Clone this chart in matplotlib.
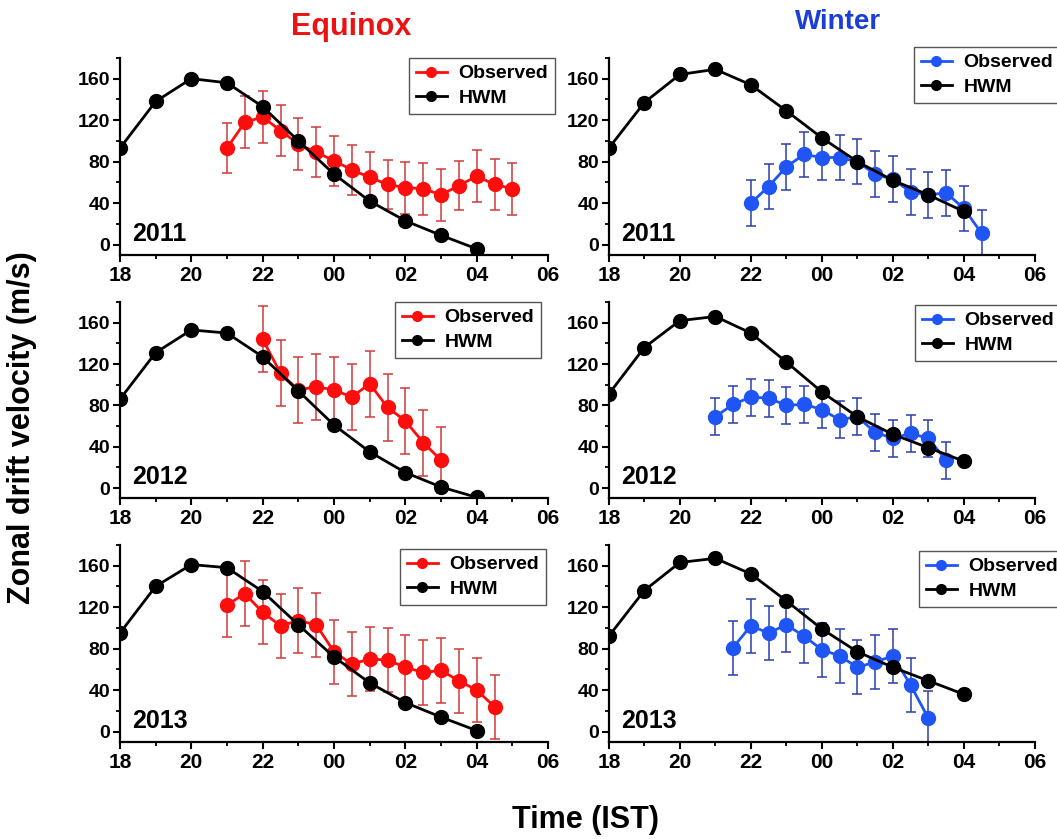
import matplotlib
matplotlib.use('Agg')
import matplotlib.pyplot as plt
from matplotlib.lines import Line2D
from matplotlib.ticker import MultipleLocator, FuncFormatter

plt.rcParams['font.family'] = ['Liberation Sans', 'DejaVu Sans']
plt.rcParams['font.weight'] = 'bold'
plt.rcParams['axes.linewidth'] = 1.6

RED = '#ff0d0d'
RED_ERR = '#d03a3a'
BLUE = '#1f55f5'
BLUE_ERR = '#2b3fae'

# HWM model, hourly 18 -> 04 IST (hours past 24 = next day)
hwm_t = [18, 19, 20, 21, 22, 23, 24, 25, 26, 27, 28]

eq2011_hwm = [93, 138, 160, 156, 133, 100, 68, 42, 23, 9, -4]
eq2011_t = [21, 21.5, 22, 22.5, 23, 23.5, 24, 24.5, 25, 25.5, 26, 26.5, 27, 27.5, 28, 28.5, 29]
eq2011_obs = [93, 118, 123, 110, 97, 89, 81, 72, 65, 58, 55, 54, 48, 57, 66, 58, 54]
eq2011_err = [24, 25, 25, 25, 25, 24, 24, 24, 24, 24, 25, 25, 25, 24, 25, 25, 25]

wi2011_hwm = [93, 137, 164, 169, 154, 129, 103, 80, 62, 48, 32]
wi2011_t = [22, 22.5, 23, 23.5, 24, 24.5, 25, 25.5, 26, 26.5, 27, 27.5, 28, 28.5]
wi2011_obs = [40, 56, 75, 87, 84, 84, 80, 68, 63, 51, 48, 50, 35, 11]
wi2011_err = [22, 22, 22, 22, 22, 22, 22, 22, 22, 22, 22, 22, 22, 22]

eq2012_hwm = [86, 131, 153, 150, 127, 94, 61, 35, 15, 1, -9]
eq2012_t = [22, 22.5, 23, 23.5, 24, 24.5, 25, 25.5, 26, 26.5, 27]
eq2012_obs = [144, 111, 95, 98, 95, 88, 101, 78, 65, 44, 27]
eq2012_err = [32, 32, 32, 32, 32, 32, 32, 32, 32, 32, 32]

wi2012_hwm = [91, 136, 162, 166, 150, 122, 93, 69, 52, 39, 26]
wi2012_t = [21, 21.5, 22, 22.5, 23, 23.5, 24, 24.5, 25, 25.5, 26, 26.5, 27, 27.5]
wi2012_obs = [69, 81, 88, 87, 80, 81, 76, 66, 69, 54, 48, 53, 48, 27]
wi2012_err = [18, 18, 18, 18, 18, 18, 18, 18, 18, 18, 18, 18, 18, 18]

eq2013_hwm = [95, 140, 161, 158, 135, 103, 72, 47, 28, 14, 1]
eq2013_t = [21, 21.5, 22, 22.5, 23, 23.5, 24, 24.5, 25, 25.5, 26, 26.5, 27, 27.5, 28, 28.5]
eq2013_obs = [122, 133, 115, 102, 107, 103, 77, 65, 70, 69, 62, 57, 59, 49, 40, 24]
eq2013_err = [31, 31, 31, 31, 31, 31, 31, 31, 31, 31, 31, 31, 31, 31, 31, 31]

wi2013_hwm = [92, 136, 163, 167, 152, 126, 99, 77, 62, 49, 36]
wi2013_t = [21.5, 22, 22.5, 23, 23.5, 24, 24.5, 25, 25.5, 26, 26.5, 27]
wi2013_obs = [81, 102, 95, 103, 92, 79, 73, 62, 67, 73, 45, 13]
wi2013_err = [26, 26, 26, 26, 26, 26, 26, 26, 26, 26, 26, 26]

panels = [
    # (axes rect, year, hwm, t, obs, err, color, err color, legend anchor px)
    ([0.1135, 0.696, 0.405, 0.235], '2011', eq2011_hwm, eq2011_t, eq2011_obs, eq2011_err, RED, RED_ERR, (409, 58)),
    ([0.576, 0.696, 0.403, 0.235], '2011', wi2011_hwm, wi2011_t, wi2011_obs, wi2011_err, BLUE, BLUE_ERR, (914, 47)),
    ([0.1135, 0.406, 0.405, 0.234], '2012', eq2012_hwm, eq2012_t, eq2012_obs, eq2012_err, RED, RED_ERR, (395, 302)),
    ([0.576, 0.406, 0.403, 0.234], '2012', wi2012_hwm, wi2012_t, wi2012_obs, wi2012_err, BLUE, BLUE_ERR, (915, 305)),
    ([0.1135, 0.1156, 0.405, 0.235], '2013', eq2013_hwm, eq2013_t, eq2013_obs, eq2013_err, RED, RED_ERR, (400, 549)),
    ([0.576, 0.1156, 0.403, 0.235], '2013', wi2013_hwm, wi2013_t, wi2013_obs, wi2013_err, BLUE, BLUE_ERR, (919, 551)),
]

W, H = 1057, 839
fig = plt.figure(figsize=(W / 100, H / 100), dpi=100)


def hour_fmt(x, pos):
    return '%02d' % (int(round(x)) % 24)


for rect, year, hwm, t, obs, err, col, ecol, leg_xy in panels:
    ax = fig.add_axes(rect)
    ax.errorbar(t, obs, yerr=err, fmt='none', ecolor=ecol, elinewidth=1.1,
                capsize=3.5, capthick=1.1, zorder=2)
    ax.plot(t, obs, '-o', color=col, lw=2, markersize=10, zorder=3)
    ax.plot(hwm_t, hwm, '-o', color='black', lw=2, markersize=10, zorder=4)

    ax.set_xlim(18, 30)
    ax.set_ylim(-10, 180)
    ax.xaxis.set_major_locator(MultipleLocator(2))
    ax.xaxis.set_minor_locator(MultipleLocator(1))
    ax.xaxis.set_major_formatter(FuncFormatter(hour_fmt))
    ax.yaxis.set_minor_locator(MultipleLocator(20))
    ax.set_yticks([0, 40, 80, 120, 160])
    ax.spines['top'].set_visible(False)
    ax.spines['right'].set_visible(False)
    ax.tick_params(which='major', direction='out', length=5, width=1.5)
    ax.tick_params(which='minor', direction='out', length=3, width=1.3)
    ax.tick_params(axis='x', labelsize=15, pad=3)
    ax.tick_params(axis='y', labelsize=14, pad=2)
    for lab in ax.get_xticklabels() + ax.get_yticklabels():
        lab.set_fontweight('bold')

    ax.text(18.35, 3.5, year, fontsize=18, fontweight='bold', va='baseline')

    handles = [Line2D([], [], color=col, marker='o', markersize=7, lw=2),
               Line2D([], [], color='black', marker='o', markersize=7, lw=2)]
    leg = ax.legend(handles, ['Observed', 'HWM'], loc='upper left',
                    bbox_to_anchor=(leg_xy[0] / W, 1 - leg_xy[1] / H),
                    bbox_transform=fig.transFigure, borderaxespad=0,
                    fancybox=False, framealpha=1, edgecolor='#555555',
                    prop={'size': 14, 'weight': 'bold'}, handlelength=1.6,
                    handletextpad=0.6, labelspacing=0.35, borderpad=0.35)
    leg.get_frame().set_linewidth(1.0)

fig.text(351 / W, 1 - 27 / H, 'Equinox', color='#ee1111', fontsize=22,
         fontweight='bold', ha='center', va='center')
fig.text(838 / W, 1 - 22 / H, 'Winter', color='#1a3fd8', fontsize=20,
         fontweight='bold', ha='center', va='center')

fig.text(22 / W, 1 - 428 / H, 'Zonal drift velocity (m/s)', rotation=90,
         fontsize=22, fontweight='bold', ha='center', va='center')
fig.text(586 / W, 1 - 820 / H, 'Time (IST)', fontsize=22, fontweight='bold',
         ha='center', va='center')

fig.savefig('out.png', dpi=100)
